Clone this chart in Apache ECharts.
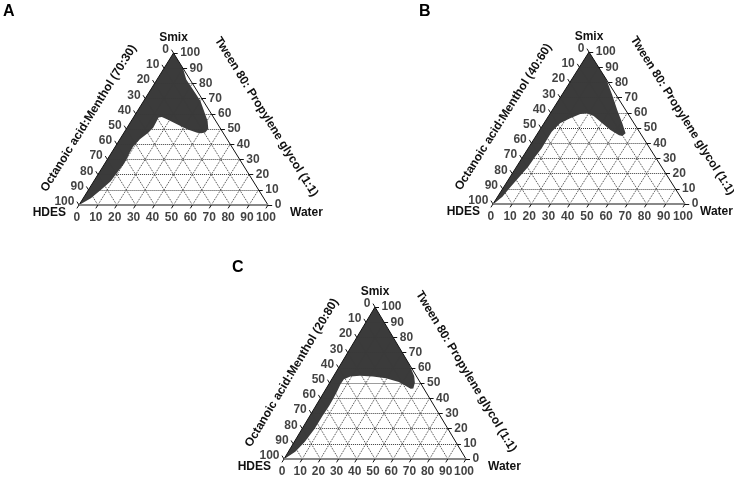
<!DOCTYPE html>
<html><head><meta charset="utf-8">
<script src="https://cdn.jsdelivr.net/npm/echarts@6/dist/echarts.min.js"></script>
<style>html,body{margin:0;padding:0;background:#fff}#chart{width:734px;height:478px}</style>
</head><body><div id="chart"></div>
<script>
// ---- data ----
const tickValues = [0,10,20,30,40,50,60,70,80,90,100];
const panelLetters = ['A','B','C'];
const hdesTitles = ['Octanoic acid:Menthol (70:30)','Octanoic acid:Menthol (40:60)','Octanoic acid:Menthol (20:80)'];
const smixTitle = 'Tween 80: Propylene glycol (1:1)';
const vertexNames = ['Smix','HDES','Water'];
// microemulsion region boundaries, points as [Water %, Smix %] (HDES = 100 - Water - Smix)
const boundaryA = [[0,100],[10,90],[15.5,82.5],[23.3,75],[30,68.5],[35.5,61.5],[40.4,55.3],[43.4,50],[42.9,47.7],[41,47.2],[38.8,47.5],[32.3,49.8],[25.3,53.1],[18.3,56.4],[14.9,57.9],[13.3,57.6],[13.5,55.3],[13.8,50.9],[12.9,47.5],[10.6,43.2],[9.4,38.7],[9.6,34.5],[10,31],[10.2,26.6],[9.6,22.2],[9,15.6],[6.6,10.1],[4,4.5],[0.5,0.5],[0,0]];
const boundaryB = [[0,100],[10,90],[18,82],[26,72],[33.8,61.8],[40.8,53.1],[45.8,46.5],[45,44.7],[43,45.3],[36.8,48.7],[28.9,54.1],[23.5,57.9],[19.1,59.7],[15.9,59.2],[12,56.4],[8.4,53.1],[6.8,47.6],[6.9,42.1],[7.1,36.6],[6.4,31.1],[6.1,24.5],[4.6,17],[3.5,11],[2.5,4.8],[0.5,0.5],[0,0]];
const boundaryC = [[0,100],[10,90],[20,80],[30,70],[38,62],[44.3,54.5],[46.8,50.2],[47.9,46.3],[46.5,46.2],[44.9,47],[37.8,50.6],[29.4,53.2],[21.7,54.3],[14.3,54.8],[9.3,54.3],[6.7,52.4],[6.5,49.1],[6.9,44.8],[7.2,40.5],[7.3,35.1],[7,28.6],[6.9,19.9],[5.8,11.3],[3.8,4.8],[0.5,0.5],[0,0]];
const boundaries = [boundaryA, boundaryB, boundaryC];

// ---- layout (pixels) ----
const panels = [
  {L:[79,205], R:[268,205], apexY:53, letter:[3,4], waterGap:22},
  {L:[493,204], R:[685,204], apexY:52, letter:[419,4], waterGap:15},
  {L:[284,459], R:[466,459], apexY:307, letter:[232,260], waterGap:22}
];

const toXY = (w, s) => [w + s / 2, s];
const FONT = 'Liberation Sans, Arial, sans-serif';
const TXT = '#111';

const option = {animation:false, grid:[], xAxis:[], yAxis:[], series:[], graphic:[]};

panels.forEach((p, i) => {
  const W = p.R[0] - p.L[0], H = p.L[1] - p.apexY;
  option.grid.push({left:p.L[0] - 0.1*W, top:p.apexY - 0.1*H, width:1.2*W, height:1.2*H, containLabel:false});
  option.xAxis.push({type:'value', gridIndex:i, min:-10, max:110, show:false});
  option.yAxis.push({type:'value', gridIndex:i, min:-10, max:110, show:false});
  const ax = {xAxisIndex:i, yAxisIndex:i};

  // fill
  const pts = boundaries[i].map(d => toXY(d[0], d[1]));
  option.series.push(Object.assign({
    type:'custom', coordinateSystem:'cartesian2d', silent:true, z:1, clip:false,
    data: pts,
    renderItem: (params, api) => {
      if (params.dataIndex !== 0) return null;
      return {type:'polygon', shape:{points: pts.map(q => api.coord(q))}, style:{fill:'#3b3b3b'}};
    }
  }, ax));

  // dotted grid lines
  const gl = [];
  tickValues.slice(1, -1).forEach(k => {
    gl.push({coords:[toXY(0,k), toXY(100-k,k)]});          // constant Smix
    gl.push({coords:[toXY(k,0), toXY(k,100-k)]});          // constant Water
    gl.push({coords:[toXY(100-k,0), toXY(0,100-k)]});      // constant HDES
  });
  option.series.push(Object.assign({type:'lines', coordinateSystem:'cartesian2d', silent:true, z:2,
    lineStyle:{type:'dotted', color:'#3a3a3a', width:1, opacity:1}, data:gl}, ax));

  // edges
  option.series.push(Object.assign({type:'lines', coordinateSystem:'cartesian2d', silent:true, z:3,
    lineStyle:{color:'#111', width:1, opacity:1},
    data:[{coords:[toXY(0,0), toXY(0,100)]},{coords:[toXY(0,100), toXY(100,0)]}]}, ax));
  option.series.push(Object.assign({type:'lines', coordinateSystem:'cartesian2d', silent:true, z:3,
    lineStyle:{color:'#888', width:2, opacity:1},
    data:[{coords:[toXY(0,0), toXY(100,0)]}]}, ax));

  // ticks
  const t = 2.2, tk = [];
  const rightEnds = [], leftEnds = [], bottomEnds = [];
  tickValues.forEach(k => {
    const r0 = toXY(100-k, k); const r1 = [r0[0] + t, r0[1]];
    const l0 = toXY(0, 100-k); const l1 = [l0[0] - 0.5*t, l0[1] + t];
    const b0 = toXY(k, 0);     const b1 = [b0[0] - 0.5*t, b0[1] - t];
    tk.push({coords:[r0,r1]},{coords:[l0,l1]},{coords:[b0,b1]});
    rightEnds.push([r1[0], r1[1], k]);
    leftEnds.push([l1[0], l1[1], k]);
    bottomEnds.push([b1[0], b1[1], k]);
  });
  option.series.push(Object.assign({type:'lines', coordinateSystem:'cartesian2d', silent:true, z:3,
    lineStyle:{color:'#111', width:1, opacity:1}, data:tk}, ax));

  const lab = (data, position, distance) => Object.assign({
    type:'scatter', silent:true, z:4, symbolSize:1, itemStyle:{color:'rgba(0,0,0,0)'},
    data, label:{show:true, position, distance, formatter: q => String(q.value[2]),
      color:TXT, fontFamily:FONT, fontWeight:'bold', fontSize:12}
  }, ax);
  option.series.push(lab(rightEnds, 'right', 2));
  option.series.push(lab(leftEnds, 'left', 2));
  option.series.push(lab(bottomEnds, 'bottom', 3));

  // titles
  const T = [(p.L[0]+p.R[0])/2, p.apexY];
  const st = {fill:TXT, font:'bold 12px ' + FONT};
  option.graphic.push({type:'text', x:T[0], y:T[1]-15, style:Object.assign({text:vertexNames[0], align:'center', verticalAlign:'middle'}, st)});
  option.graphic.push({type:'text', x:p.L[0]-13, y:p.L[1]+8, style:Object.assign({text:vertexNames[1], align:'right', verticalAlign:'middle'}, st)});
  option.graphic.push({type:'text', x:p.R[0]+p.waterGap, y:p.R[1]+8, style:Object.assign({text:vertexNames[2], align:'left', verticalAlign:'middle'}, st)});
  const len = Math.hypot(W/2, H);
  const ang = Math.atan2(H, W/2);
  // left title
  const ue = [(W/2)/len, -H/len], nl = [-H/len, -(W/2)/len];
  const fl = 0.44*len, dl = 37.5;
  option.graphic.push({type:'text', x:p.L[0] + ue[0]*fl + nl[0]*dl, y:p.L[1] + ue[1]*fl + nl[1]*dl, rotation: ang,
    style:Object.assign({text:hdesTitles[i], align:'center', verticalAlign:'middle'}, st)});
  // right title
  const ur = [(W/2)/len, H/len], nr = [H/len, -(W/2)/len];
  const fr = 0.577*len, dr = 45;
  option.graphic.push({type:'text', x:T[0] + ur[0]*fr + nr[0]*dr, y:T[1] + ur[1]*fr + nr[1]*dr, rotation: -ang,
    style:Object.assign({text:smixTitle, align:'center', verticalAlign:'middle'}, st)});
  // panel letter
  option.graphic.push({type:'text', x:p.letter[0], y:p.letter[1], style:{text:panelLetters[i], fill:'#000', font:'bold 16px ' + FONT}});
});

const chart = echarts.init(document.getElementById('chart'), null, {renderer:'canvas'});
chart.setOption(option);
</script>
</body></html>
